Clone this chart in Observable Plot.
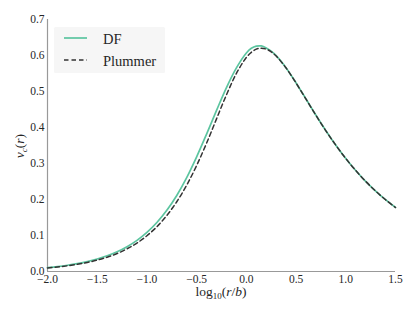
<!DOCTYPE html>
<html>
<head>
<meta charset="utf-8">
<script src="https://cdn.jsdelivr.net/npm/d3@7"></script>
<script src="https://cdn.jsdelivr.net/npm/@observablehq/plot@0.6"></script>
<style>
  html, body { margin: 0; padding: 0; background: #fff; }
  svg { display: block; }
</style>
</head>
<body>
<div id="chart"></div>
<script>
// log10(r/b) sample positions
const logR = [-2.0,-1.9,-1.8,-1.7,-1.6,-1.5,-1.4,-1.3,-1.2,-1.1,-1.0,-0.9,-0.8,-0.7,-0.6,-0.5,-0.4,-0.3,-0.2,-0.1,0.0,0.05,0.1,0.15,0.2,0.25,0.3,0.4,0.5,0.6,0.7,0.8,0.9,1.0,1.1,1.2,1.3,1.4,1.5];
// Plummer v_c(r)
const plummer = [0.0100,0.0126,0.0158,0.0200,0.0251,0.0316,0.0398,0.0500,0.0629,0.0791,0.0993,0.1244,0.1556,0.1938,0.2399,0.2944,0.3565,0.4240,0.4907,0.5504,0.5946,0.6089,0.6176,0.6204,0.6178,0.6103,0.5984,0.5651,0.5236,0.4788,0.4338,0.3908,0.3507,0.3139,0.2805,0.2504,0.2235,0.1993,0.1778];
// DF v_c(r)
const dfv = [0.0110,0.0138,0.0174,0.0219,0.0275,0.0347,0.0436,0.0548,0.0689,0.0866,0.1087,0.1361,0.1699,0.2112,0.2607,0.3184,0.3817,0.4475,0.5110,0.5656,0.6070,0.6200,0.6260,0.6265,0.6210,0.6120,0.5995,0.5655,0.5238,0.4790,0.4340,0.3910,0.3508,0.3140,0.2806,0.2505,0.2236,0.1994,0.1779];
const seriesNames = ["DF", "Plummer"];
const xTicks = [-2.0,-1.5,-1.0,-0.5,0.0,0.5,1.0,1.5];
const yTicks = [0.0,0.1,0.2,0.3,0.4,0.5,0.6,0.7];

const colors = {DF: "#5cc5a0", Plummer: "#333333"};
const rowsDF = logR.map((x, i) => ({x, v: dfv[i]}));
const rowsPl = logR.map((x, i) => ({x, v: plummer[i]}));

const SERIF = "'Liberation Serif', 'Times New Roman', serif";
const fmt = d3.format(".1f");
const chart = Plot.plot({
  width: 415,
  height: 313,
  marginLeft: 47,
  marginRight: 20,
  marginTop: 19,
  marginBottom: 42,
  style: {fontFamily: SERIF, fontSize: "11.5px", color: "#262626", background: "#fff"},
  x: {domain: [-2, 1.5], label: null},
  y: {domain: [0, 0.7], label: null},
  marks: [
    Plot.axisX({ticks: xTicks, tickFormat: fmt, tickSize: 0, tickPadding: 3, label: null}),
    Plot.axisY({ticks: yTicks, tickFormat: fmt, tickSize: 0, tickPadding: 3, label: null}),
    Plot.ruleY([0], {stroke: "#999", strokeWidth: 1.2}),
    Plot.ruleX([-2], {stroke: "#999", strokeWidth: 1.2}),
    Plot.line(rowsDF, {x: "x", y: "v", stroke: colors.DF, strokeWidth: 1.7, curve: "catmull-rom"}),
    Plot.line(rowsPl, {x: "x", y: "v", stroke: colors.Plummer, strokeWidth: 1.5, strokeDasharray: "4.5,3", curve: "catmull-rom"})
  ]
});
document.getElementById("chart").appendChild(chart);

const svg = d3.select(chart);
// legend
const lg = svg.append("g").style("font-family", SERIF).style("font-size", "14.5px").attr("fill", "#262626");
lg.append("rect").attr("x", 54).attr("y", 27).attr("width", 111).attr("height", 46).attr("fill", "#f6f6f6").attr("rx", 1.5);
seriesNames.forEach((name, i) => {
  const yy = 38 + i * 22;
  lg.append("line").attr("x1", 64).attr("x2", 87).attr("y1", yy).attr("y2", yy)
    .attr("stroke", colors[name]).attr("stroke-width", name === "DF" ? 1.7 : 1.5)
    .attr("stroke-dasharray", name === "Plummer" ? "4.5,3" : null);
  lg.append("text").attr("x", 103).attr("y", yy + 5.5)
    .style("text-anchor", "start").style("font-family", SERIF).style("font-size", "14.5px")
    .text(name);
});

// x label: log10(r/b)
const xl = svg.append("text").attr("x", 221).attr("y", 296)
  .style("text-anchor", "middle").style("font-family", SERIF).style("font-size", "13.5px").attr("fill", "#262626");
xl.append("tspan").text("log");
xl.append("tspan").style("font-size", "9px").attr("dy", 3).text("10");
xl.append("tspan").attr("dy", -3).text("(");
xl.append("tspan").style("font-style", "italic").text("r");
xl.append("tspan").text("/");
xl.append("tspan").style("font-style", "italic").text("b");
xl.append("tspan").text(")");

// y label: v_c(r)
const yl = svg.append("text").attr("transform", "translate(24,146) rotate(-90)")
  .style("text-anchor", "middle").style("font-family", SERIF).style("font-size", "13.5px").attr("fill", "#262626");
yl.append("tspan").style("font-style", "italic").text("v");
yl.append("tspan").style("font-style", "italic").style("font-size", "9px").attr("dy", 3).text("c");
yl.append("tspan").attr("dy", -3).text("(");
yl.append("tspan").style("font-style", "italic").text("r");
yl.append("tspan").text(")");
</script>
</body>
</html>
